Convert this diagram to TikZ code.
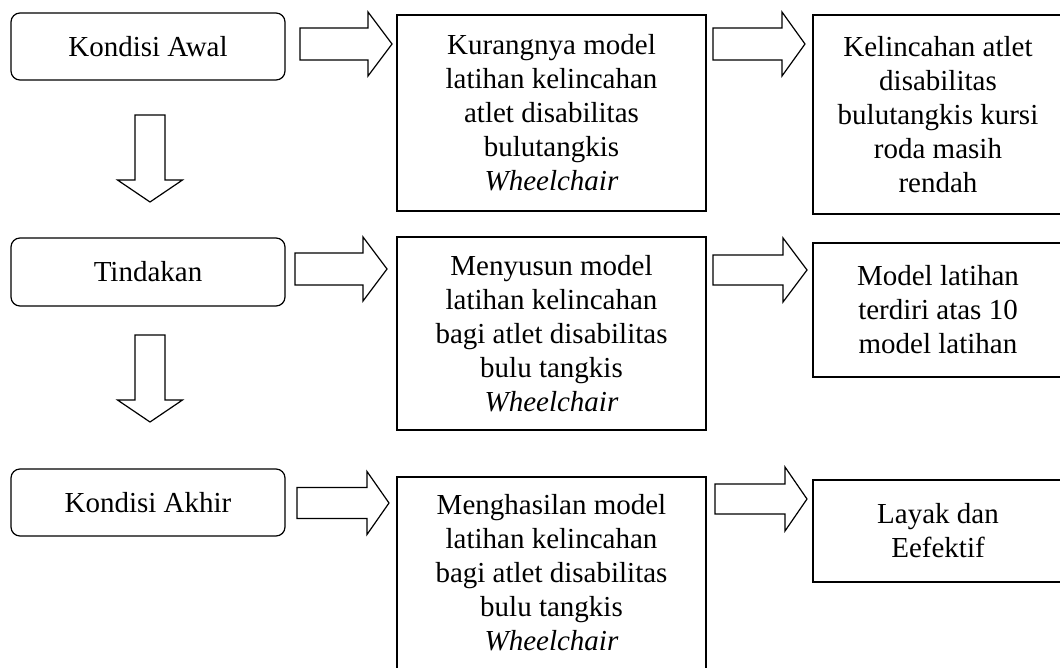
\documentclass[tikz,border=0pt]{standalone}
\usepackage{fontspec}
\setmainfont{Liberation Serif}
\begin{document}
\begin{tikzpicture}[x=1pt,y=-1pt,
  txt/.style={font=\fontsize{29}{34}\selectfont, align=center, inner sep=0pt},
  lbox/.style={txt, draw, line width=1.2pt, rounded corners=9pt, minimum width=274pt},
  sbox/.style={txt, draw, line width=1.2pt},
  barrow/.style={draw, line width=1.2pt, fill=white, line join=miter}]
\useasboundingbox (0,0) rectangle (1060,667);
% left column
\node[lbox, minimum height=67pt] (a1) at (148,46.5) {Kondisi Awal};
\node[lbox, minimum height=68pt] (a2) at (148,272) {Tindakan};
\node[lbox, minimum height=67pt] (a3) at (148,502.5) {Kondisi Akhir};
% middle column
\node[sbox, minimum width=309pt, minimum height=196pt] (m1) at (551.5,113) {Kurangnya model\\latihan kelincahan\\atlet disabilitas\\bulutangkis\\\textit{Wheelchair}};
\node[sbox, minimum width=309pt, minimum height=193pt] (m2) at (551.5,333.5) {Menyusun model\\latihan kelincahan\\bagi atlet disabilitas\\bulu tangkis\\\textit{Wheelchair}};
\node[sbox, minimum width=309pt, minimum height=192pt] (m3) at (551.5,573) {Menghasilan model\\latihan kelincahan\\bagi atlet disabilitas\\bulu tangkis\\\textit{Wheelchair}};
% right column
\node[sbox, minimum width=250pt, minimum height=199pt] (r1) at (938,114.5) {Kelincahan atlet\\disabilitas\\bulutangkis kursi\\roda masih\\rendah};
\node[sbox, minimum width=250pt, minimum height=134pt] (r2) at (938,310) {Model latihan\\terdiri atas 10\\model latihan};
\node[sbox, minimum width=250pt, minimum height=102pt] (r3) at (938,531) {Layak dan\\Eefektif};
% block arrows: right
\newcommand\rblock[6]{\draw[barrow] (#1,#4-#5) -- (#2,#4-#5) -- (#2,#4-#6) -- (#3,#4) -- (#2,#4+#6) -- (#2,#4+#5) -- (#1,#4+#5) -- cycle;}
\newcommand\dblock[6]{\draw[barrow] (#4-#5,#1) -- (#4-#5,#2) -- (#4-#6,#2) -- (#4,#3) -- (#4+#6,#2) -- (#4+#5,#2) -- (#4+#5,#1) -- cycle;}
\rblock{300}{368}{392}{44}{16}{32}
\rblock{295}{363}{387}{269}{16}{32}
\rblock{297}{367}{389}{503}{15.5}{31.5}
\rblock{713}{782}{805}{44}{16}{32}
\rblock{713}{783}{807}{270}{15}{32}
\rblock{715}{785}{807}{499}{15}{32}
\dblock{115}{180}{202}{150}{15}{32.5}
\dblock{335}{400}{422}{150}{15}{32.5}
\end{tikzpicture}
\end{document}
